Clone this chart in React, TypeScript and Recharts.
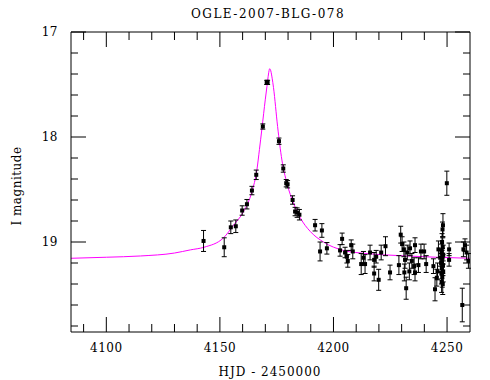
import { ComposedChart, Line, Scatter, ErrorBar, XAxis, YAxis } from "recharts";

// observed photometry (HJD - 2450000, I mag, error)
const obsHjd = [
  4142.8, 4151.9, 4154.8, 4157.0, 4159.8, 4161.9, 4164.1, 4166.0, 4168.9, 4170.6,
  4171.0, 4176.0, 4177.9, 4179.2, 4179.8, 4182.0, 4183.1, 4184.0, 4185.0, 4191.9,
  4194.1, 4194.9, 4197.1, 4202.9, 4203.8, 4205.1, 4205.9, 4206.3, 4207.8, 4208.5,
  4212.2, 4213.2, 4213.9, 4216.1, 4217.9, 4217.9, 4218.8, 4219.9, 4221.0, 4222.9,
  4224.9, 4228.8, 4229.6, 4230.2, 4231.0, 4231.5, 4231.2, 4232.0, 4232.5, 4233.4,
  4233.7, 4234.5, 4235.5, 4235.9, 4235.9, 4237.4, 4238.5, 4239.9, 4240.8, 4244.0,
  4244.7, 4245.5, 4245.8, 4246.2, 4247.0, 4247.4, 4247.5, 4247.6, 4247.7, 4247.8,
  4247.9, 4248.0, 4248.0, 4248.1, 4248.2, 4248.2, 4248.3, 4248.3, 4247.6, 4248.1,
  4249.9, 4250.9, 4250.9, 4256.7, 4257.2, 4257.9, 4258.6, 4259.4,
];
const obsMag = [
  18.99, 19.05, 18.86, 18.85, 18.70, 18.64, 18.51, 18.36, 17.90, 17.48,
  17.48, 18.04, 18.30, 18.44, 18.45, 18.60, 18.71, 18.72, 18.74, 18.84,
  19.09, 18.89, 19.06, 19.08, 18.97, 19.10, 19.14, 19.18, 19.03, 19.09,
  19.21, 19.15, 19.21, 19.10, 19.17, 19.30, 19.14, 19.36, 19.10, 19.04,
  19.29, 19.22, 18.93, 19.02, 19.07, 19.17, 19.29, 19.44, 19.10, 19.28,
  19.06, 19.18, 19.23, 19.03, 19.29, 19.22, 19.09, 19.09, 19.21, 19.23,
  19.45, 19.34, 19.28, 19.07, 19.15, 19.20, 19.30, 19.10, 19.25, 19.00,
  19.33, 19.15, 18.88, 19.05, 18.84, 19.22, 19.28, 19.12, 19.38, 19.40,
  18.44, 19.07, 19.17, 19.60, 19.07, 19.03, 19.10, 19.18,
];
const obsErr = [
  0.10, 0.09, 0.06, 0.06, 0.045, 0.045, 0.04, 0.045, 0.025, 0.02,
  0.02, 0.03, 0.035, 0.035, 0.035, 0.04, 0.04, 0.045, 0.05, 0.055,
  0.09, 0.065, 0.055, 0.055, 0.055, 0.05, 0.06, 0.06, 0.05, 0.07,
  0.10, 0.06, 0.09, 0.07, 0.07, 0.07, 0.06, 0.10, 0.07, 0.09,
  0.07, 0.09, 0.08, 0.07, 0.07, 0.08, 0.08, 0.105, 0.07, 0.08,
  0.07, 0.07, 0.08, 0.07, 0.08, 0.07, 0.07, 0.07, 0.08, 0.07,
  0.11, 0.08, 0.08, 0.08, 0.08, 0.09, 0.10, 0.08, 0.10, 0.08,
  0.10, 0.09, 0.07, 0.09, 0.11, 0.10, 0.10, 0.09, 0.10, 0.10,
  0.115, 0.06, 0.06, 0.16, 0.07, 0.06, 0.07, 0.07,
];

// model light curve
const modelHjd = [
  4084.4, 4100, 4115, 4130, 4137, 4143, 4151.6, 4156, 4160.4, 4164.1,
  4166.3, 4167.4, 4168.5, 4170.0, 4170.7, 4171.4, 4171.9, 4172.4, 4173.0, 4173.6,
  4175.4, 4177.3, 4179.5, 4182.4, 4185.4, 4189.8, 4195.6, 4204.4, 4214.7, 4229.4,
  4260.1,
];
const modelMag = [
  19.155, 19.145, 19.133, 19.105, 19.075, 19.05, 18.96, 18.84, 18.71, 18.52,
  18.31, 18.12, 17.92, 17.64, 17.52, 17.40, 17.35, 17.37, 17.44, 17.53,
  17.90, 18.22, 18.44, 18.63, 18.77, 18.90, 19.00, 19.08, 19.11, 19.13,
  19.155,
];

const xTicks = [4090, 4100, 4110, 4120, 4130, 4140, 4150, 4160, 4170, 4180, 4190, 4200, 4210, 4220, 4230, 4240, 4250];
const yTicks = [17, 17.2, 17.4, 17.6, 17.8, 18, 18.2, 18.4, 18.6, 18.8, 19, 19.2, 19.4, 19.6, 19.8];

const points = obsHjd.map((t, i) => ({ hjd: t, mag: obsMag[i], err: obsErr[i] }));
const model = modelHjd.map((t, i) => ({ hjd: t, mag: modelMag[i] }));

const FONT = "'DejaVu Serif', serif";
const isMajorX = (v: number) => v % 50 === 0;
const isMajorY = (v: number) => Math.abs(v - Math.round(v)) < 1e-6;

function BottomTick({ x, y, payload }: any) {
  const major = isMajorX(payload.value);
  return (
    <g>
      <line x1={x} y1={y} x2={x} y2={y - (major ? 15 : 8)} stroke="#000" />
      {major && (
        <text x={x} y={y + 20} textAnchor="middle" fontFamily={FONT} fontSize={12} fill="#000" letterSpacing={0.5}>
          {payload.value}
        </text>
      )}
    </g>
  );
}

function TopTick({ x, y, payload }: any) {
  const major = isMajorX(payload.value);
  return <line x1={x} y1={y} x2={x} y2={y + (major ? 15 : 8)} stroke="#000" />;
}

function LeftTick({ x, y, payload }: any) {
  const major = isMajorY(payload.value);
  return (
    <g>
      <line x1={x} y1={y} x2={x + (major ? 15 : 7)} y2={y} stroke="#000" />
      {major && (
        <text x={x - 13} y={y + 4} textAnchor="end" fontFamily={FONT} fontSize={12} fill="#000" letterSpacing={0.5}>
          {Math.round(payload.value)}
        </text>
      )}
    </g>
  );
}

function RightTick({ x, y, payload }: any) {
  const major = isMajorY(payload.value);
  return <line x1={x} y1={y} x2={x - (major ? 15 : 7)} y2={y} stroke="#000" />;
}

const Dot = (p: any) => <rect x={p.cx - 2} y={p.cy - 2} width={4} height={4} fill="#000" />;

export default function App() {
  return (
    <div style={{ position: "absolute", left: 0, top: 0, width: 490, height: 380, background: "#fff" }}>
      <ComposedChart width={490} height={380} margin={{ top: 22, right: 10, bottom: 18, left: 31 }}>
        <XAxis
          dataKey="hjd"
          type="number"
          domain={[4084.45, 4260.1]}
          ticks={xTicks}
          allowDataOverflow
          height={30}
          tickSize={0}
          tickMargin={0}
          tickLine={false}
          axisLine={{ stroke: "#000" }}
          tick={BottomTick}
          interval={0}
        />
        <XAxis
          xAxisId="top"
          orientation="top"
          dataKey="hjd"
          type="number"
          domain={[4084.45, 4260.1]}
          ticks={xTicks}
          allowDataOverflow
          height={10}
          tickSize={0}
          tickMargin={0}
          tickLine={false}
          axisLine={{ stroke: "#000" }}
          tick={TopTick}
          interval={0}
        />
        <YAxis
          type="number"
          domain={[17, 19.857]}
          reversed
          ticks={yTicks}
          allowDataOverflow
          width={40}
          tickSize={0}
          tickMargin={0}
          tickLine={false}
          axisLine={{ stroke: "#000" }}
          tick={LeftTick}
          interval={0}
        />
        <YAxis
          yAxisId="right"
          orientation="right"
          type="number"
          domain={[17, 19.857]}
          reversed
          ticks={yTicks}
          allowDataOverflow
          width={10}
          tickSize={0}
          tickMargin={0}
          tickLine={false}
          axisLine={{ stroke: "#000" }}
          tick={RightTick}
          interval={0}
        />
        <Line
          data={model}
          dataKey="mag"
          type="monotone"
          stroke="#ff00ff"
          strokeWidth={1}
          dot={false}
          activeDot={false}
          isAnimationActive={false}
        />
        <Scatter data={points} dataKey="mag" shape={Dot} isAnimationActive={false}>
          <ErrorBar dataKey="err" direction="y" width={2.5} stroke="#000" strokeWidth={1} isAnimationActive={false} />
        </Scatter>
      </ComposedChart>
      <svg width={490} height={380} style={{ position: "absolute", left: 0, top: 0, pointerEvents: "none" }}>
        <text x={268} y={18} textAnchor="middle" fontFamily={FONT} fontSize={12} letterSpacing={1.5} fill="#000">
          OGLE-2007-BLG-078
        </text>
        <text x={270} y={376} textAnchor="middle" fontFamily={FONT} fontSize={12} letterSpacing={1} fill="#000">
          HJD - 2450000
        </text>
        <text
          x={0}
          y={0}
          transform="translate(21,186) rotate(-90)"
          textAnchor="middle"
          fontFamily={FONT}
          fontSize={12}
          letterSpacing={0.5}
          fill="#000"
        >
          I magnitude
        </text>
      </svg>
    </div>
  );
}
